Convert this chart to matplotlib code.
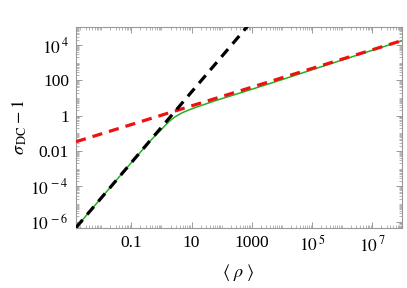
import numpy as np
import matplotlib
matplotlib.use("Agg")
import matplotlib.pyplot as plt
from matplotlib.ticker import FixedLocator, FixedFormatter, LogLocator, NullFormatter

plt.rcParams['font.family'] = ['Liberation Serif', 'DejaVu Serif']
plt.rcParams['mathtext.fontset'] = 'stix'

# green curve (log10 values)
green_logx = [-2.84, -2.0, -1.0, -0.43, -0.2, -0.04, 0.1, 0.22, 0.34, 0.46, 0.6,
              0.73, 0.9, 1.07, 1.3, 1.51, 1.75, 1.95, 2.39, 3.0, 3.5, 4.05, 4.6,
              5.5, 6.5, 7.98]
green_logy = [-6.33, -4.65, -2.65, -1.53, -1.11, -0.84, -0.59, -0.38, -0.20, -0.05, 0.09,
              0.20, 0.32, 0.43, 0.57, 0.69, 0.83, 0.94, 1.17, 1.50, 1.77, 2.07, 2.38,
              2.88, 3.43, 4.24]
# black dashed asymptote (low density)
black_logx = [-2.84, 3.0]
black_logy = [-6.33, 5.35]
# red dashed asymptote (high density)
red_logx = [-2.84, 7.98]
red_logy = [-1.47, 4.25]

xticks = [0.1, 10, 1000, 1e5, 1e7]
xlabels = ['0.1', '10', '1000', r'$10^{\,5}$', r'$10^{\,7}$']
yticks = [1e-6, 1e-4, 1e-2, 1, 100, 1e4]
ylabels = [r'$10^{\,-6}$', r'$10^{\,-4}$', '0.01', '1', '100', r'$10^{\,4}$']

fig = plt.figure(figsize=(4.07, 2.88), dpi=100)
ax = fig.add_axes([76/407, 1-228.3/288, (401.7-76)/407, (228.3-26.7)/288])

gx = 10.0**np.array(green_logx); gy = 10.0**np.array(green_logy)
bx = 10.0**np.array(black_logx); by = 10.0**np.array(black_logy)
rx = 10.0**np.array(red_logx); ry = 10.0**np.array(red_logy)

ax.plot(gx, gy, color='#22b022', lw=1.1, zorder=2, solid_joinstyle='round')
ax.plot(rx, ry, color='#f01010', lw=2.3, dashes=(3.2, 2.2), zorder=3)
ax.plot(bx, by, color='black', lw=2.3, dashes=(3.2, 2.2), zorder=4)

ax.set_xscale('log'); ax.set_yscale('log')
ax.set_xlim(10**-2.84, 10**7.98)
ax.set_ylim(10**-6.37, 10**5.04)

ax.xaxis.set_major_locator(FixedLocator(xticks))
ax.xaxis.set_major_formatter(FixedFormatter(xlabels))
ax.yaxis.set_major_locator(FixedLocator(yticks))
ax.yaxis.set_major_formatter(FixedFormatter(ylabels))
ax.xaxis.set_minor_locator(LogLocator(base=10, subs=np.arange(1, 10), numticks=30))
ax.yaxis.set_minor_locator(LogLocator(base=10, subs=np.arange(1, 10), numticks=30))
ax.xaxis.set_minor_formatter(NullFormatter())
ax.yaxis.set_minor_formatter(NullFormatter())

ax.tick_params(which='both', direction='in', top=True, right=True, color='#999999')
ax.tick_params(which='major', length=4, width=0.7, labelsize=12.5, pad=5)
ax.tick_params(which='minor', length=2, width=0.5)
for s in ax.spines.values():
    s.set_color('#999999'); s.set_linewidth(0.8)

ax.set_xlabel(r'$\langle\ \rho\ \rangle$', fontsize=13, labelpad=5)
ax.set_ylabel(r'$\sigma_{\,\mathrm{DC}} - 1$', fontsize=13, labelpad=1)

fig.savefig('out.png', dpi=100)
